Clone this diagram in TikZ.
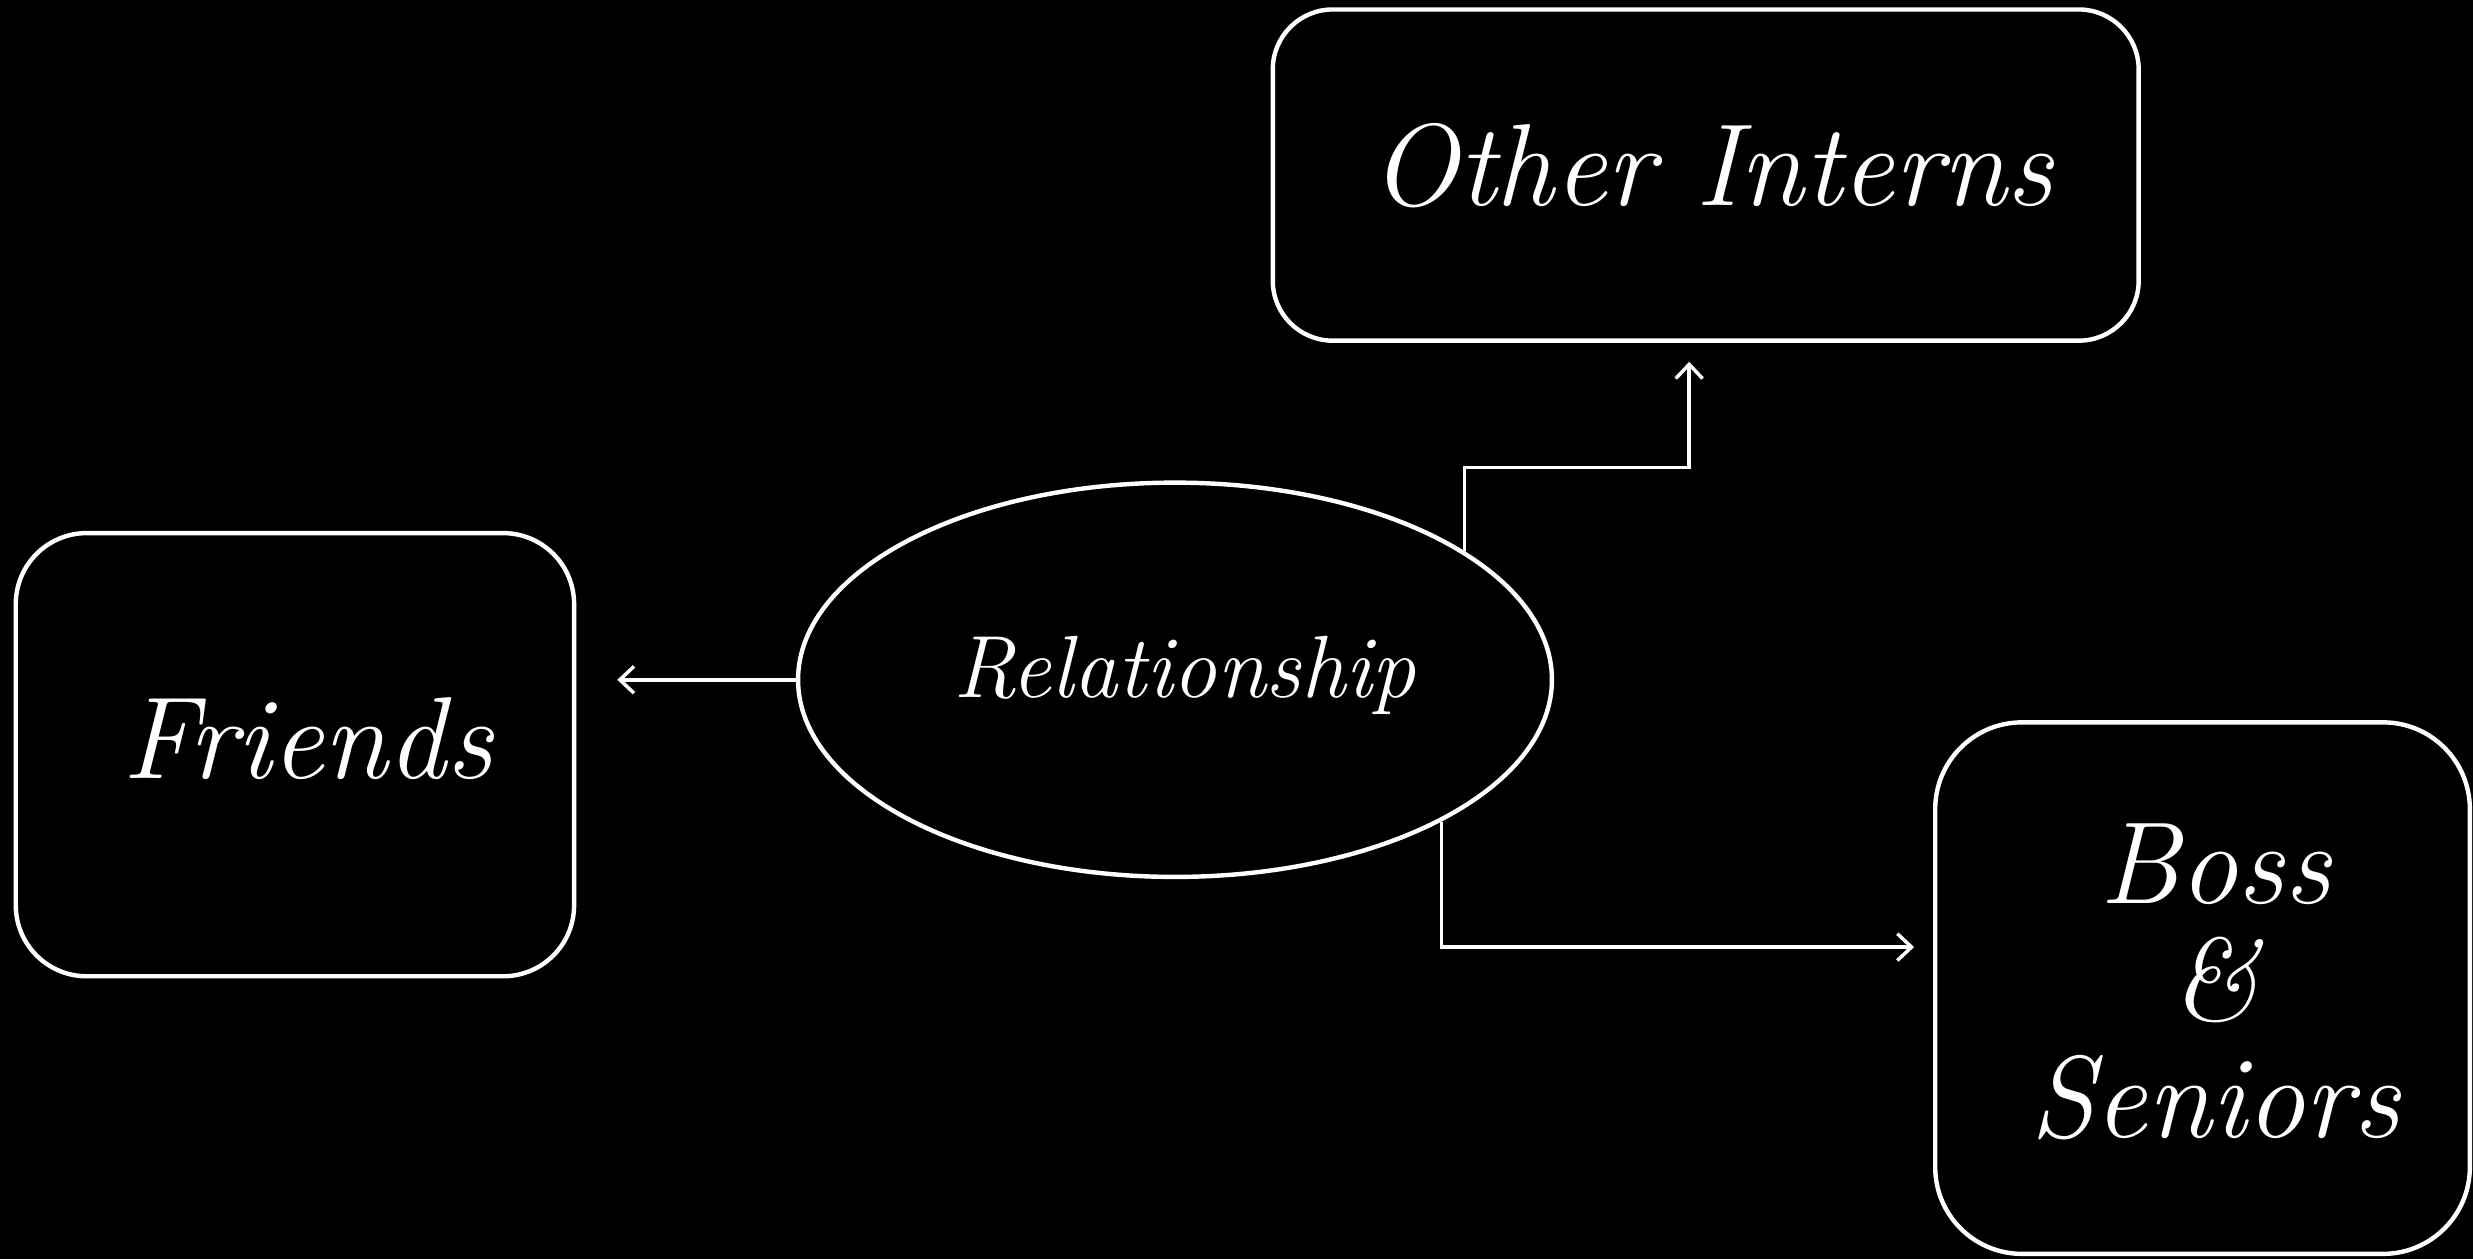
\documentclass[tikz,border=0pt]{standalone}
\usetikzlibrary{shapes.geometric,arrows.meta,calc}
\tikzset{
  box/.style={draw=white, line width=2.8pt, rounded corners=#1, text=white, align=center, inner sep=0pt},
  big/.style={font=\fontsize{74}{74}\selectfont\itshape},
  arr/.style={draw=white, line width=2.2pt, -{Straight Barb[length=9pt,width=17pt,line width=2.2pt]}}
}
\begin{document}
\begin{tikzpicture}[x=1pt,y=-1pt]
\fill[black] (0,0) rectangle (1568,798.3);
\useasboundingbox (0,0) rectangle (1568,798.3);
\node[box=38pt, minimum width=549pt, minimum height=210pt] (oi) at (1081.5,111) {};
\node[big, text=white] (oitext) at ([xshift=4pt,yshift=6pt]oi.center) {Other Interns};
\node[box=45pt, minimum width=354pt, minimum height=281pt] (fr) at (187,478.5) {};
\node[big, text=white] (frtext) at ([xshift=8pt,yshift=10pt]fr.center) {Friends};
\node[box=55pt, minimum width=339pt, minimum height=337pt] (bs) at (1396.5,626.5) {};
\node[big, text=white, align=center] (bstext) at ([xshift=8pt,yshift=4pt]bs.center) {Boss\\\&\\Seniors};
\node[ellipse, draw=white, line width=2.8pt, minimum width=478pt, minimum height=250pt, inner sep=0pt] (rel) at (745,431) {};
\node[text=white, font=\fontsize{56}{60}\selectfont\itshape] (reltext) at ([xshift=6pt,yshift=3pt]rel.center) {Relationship};
\draw[arr, shorten >=26pt] (rel.west) -- (rel.west -| fr.east);
\draw[arr, shorten >=12pt] (rel.24.3) -- ++(0,-53) -| ([xshift=-10.5pt]oi.south);
\draw[arr, shorten >=12pt] (rel.-28.4) |- ($(bs.west)+(0,-26)$);
\end{tikzpicture}
\end{document}
